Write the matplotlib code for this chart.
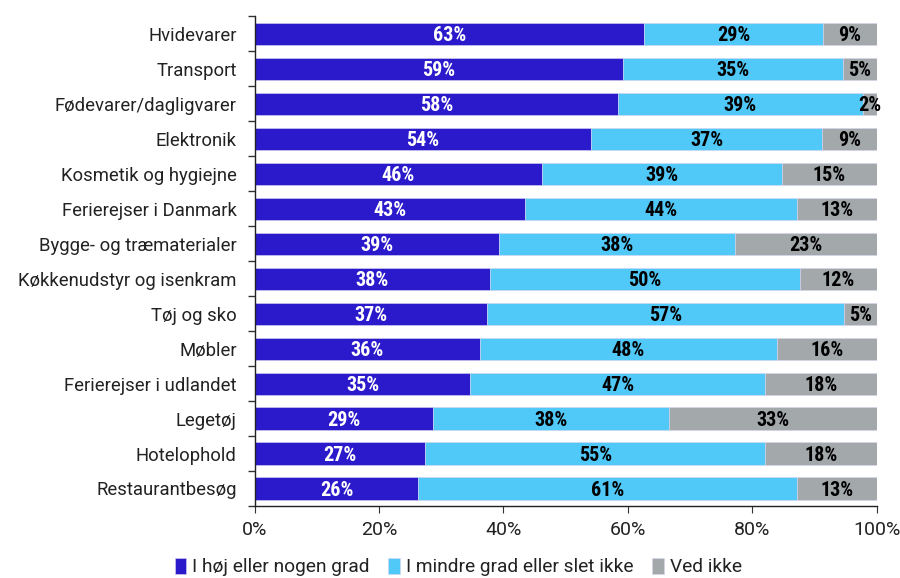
import numpy as np
import matplotlib
matplotlib.use("Agg")
import matplotlib.pyplot as plt
from matplotlib.ticker import FixedLocator, PercentFormatter

categories = ["Hvidevarer", "Transport", "Fødevarer/dagligvarer", "Elektronik",
              "Kosmetik og hygiejne", "Ferierejser i Danmark", "Bygge- og træmaterialer",
              "Køkkenudstyr og isenkram", "Tøj og sko", "Møbler", "Ferierejser i udlandet",
              "Legetøj", "Hotelophold", "Restaurantbesøg"]
hoej = [62.6, 59.2, 58.4, 54.0, 46.2, 43.4, 39.3, 37.8, 37.3, 36.2, 34.7, 28.6, 27.4, 26.3]
mindre = [28.8, 35.4, 39.4, 37.3, 38.6, 43.8, 37.9, 49.9, 57.4, 47.8, 47.4, 38.0, 54.7, 60.9]
vedikke = [8.6, 5.4, 2.2, 8.7, 15.2, 12.8, 22.8, 12.3, 5.3, 16.0, 17.9, 33.4, 17.9, 12.8]
series_names = ["I høj eller nogen grad", "I mindre grad eller slet ikke", "Ved ikke"]
colors = ["#2b1acb", "#50c8f8", "#a3a9ab"]
text_colors = ["white", "black", "black"]

plt.rcParams['font.family'] = ['Roboto', 'DejaVu Sans']

fig = plt.figure(figsize=(9, 5.78), dpi=100)
ax = fig.add_axes([0.283, 0.1246, 0.691, 0.8474])

y = np.arange(len(categories))
left = np.zeros(len(categories))
for vals, name, col, tcol in zip([hoej, mindre, vedikke], series_names, colors, text_colors):
    vals = np.array(vals)
    ax.barh(y, vals, left=left, height=0.63, color=col, label=name,
            edgecolor="#d8d4f0", linewidth=0.4)
    for v, l, yi in zip(vals, left, y):
        ax.text(l + v / 2, yi + 0.05, "%.0f%%" % v, ha="center", va="center",
                color=tcol, fontsize=14.5, fontweight="bold", family=['Roboto Condensed', 'Roboto'])
    left += vals

ax.set_ylim(len(categories) - 0.5, -0.5)
ax.set_xlim(0, 100)
ax.set_yticks(y)
ax.set_yticklabels(categories, fontsize=13.3, color="#222222")
ax.yaxis.set_minor_locator(FixedLocator(np.arange(-0.5, len(categories), 1)))
ax.tick_params(axis="y", which="major", length=0, pad=13)
ax.tick_params(axis="y", which="minor", length=5, width=1, color="#333333")
ax.set_xticks([0, 20, 40, 60, 80, 100])
ax.xaxis.set_major_formatter(PercentFormatter(decimals=0))
ax.tick_params(axis="x", length=5, width=0.8, labelsize=14, pad=6, color="#333333",
               labelcolor="#222222")
for s in ["top", "right"]:
    ax.spines[s].set_visible(False)
for s in ["left", "bottom"]:
    ax.spines[s].set_color("#222222")
    ax.spines[s].set_linewidth(1)

leg = fig.legend(loc="center", bbox_to_anchor=(0.509, 0.019), ncol=3, frameon=False,
                 fontsize=13.8, handlelength=0.6, handleheight=0.9, handletextpad=0.3,
                 columnspacing=1.0, borderaxespad=0, borderpad=0)
for t in leg.get_texts():
    t.set_color("#222222")

fig.savefig("out.png", dpi=100)
